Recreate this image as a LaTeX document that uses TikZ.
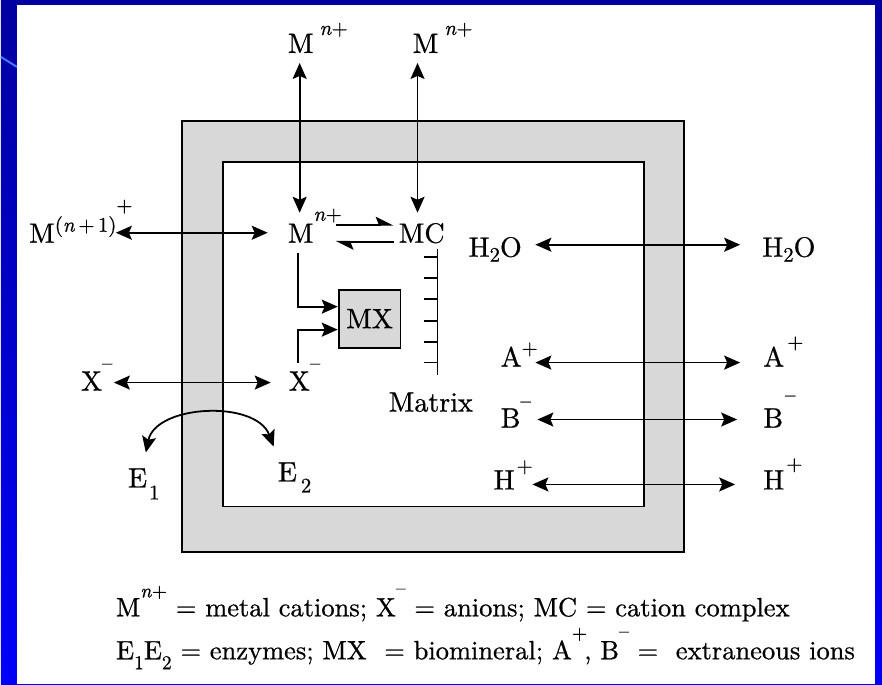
\documentclass[tikz,border=0pt]{standalone}
\usepackage{fontspec}
\setmainfont{lmroman10-regular.otf}[ItalicFont=lmroman10-italic.otf, BoldFont=lmroman10-bold.otf, FakeBold=0.7]
\usepackage{graphicx}
\usepackage{tikz}
\usetikzlibrary{arrows.meta, positioning, calc}
\definecolor{slidetop}{RGB}{0,0,160}
\definecolor{slidebot}{RGB}{0,0,250}
\definecolor{slideline}{RGB}{70,120,255}
\definecolor{wallgray}{RGB}{216,216,216}
\newcommand{\lblfont}{\fontsize{28}{33}\selectfont}
\newcommand{\keyfont}{\fontsize{26.5}{32}\selectfont}
\newcommand{\up}[2][18pt]{\raisebox{#1}{\scalebox{.74}{#2}}}
\newcommand{\dn}[2][11pt]{\raisebox{-#1}{\scalebox{.74}{#2}}}
\newcommand{\nplus}{\textit{n}+}
\tikzset{
  lbl/.style={inner sep=0pt, anchor=base west, font=\lblfont},
  ion/.style={line width=1.8pt, {Stealth[length=16pt,width=14pt,inset=3pt]}-{Stealth[length=16pt,width=14pt,inset=3pt]}},
  feed/.style={line width=1.8pt, -{Stealth[length=16pt,width=14pt,inset=3pt]}},
  harp/.style={line width=1.8pt, -{Stealth[left,length=16pt,width=16pt,inset=3pt]}},
}

\begin{document}
\begin{tikzpicture}[x=1pt,y=-1pt]

  % slide background
  \shade[top color=slidetop, bottom color=slidebot] (0,0) rectangle (882,685);
  \draw[slideline, line width=2pt] (0,57) -- (16,67);
  \fill[white] (16,5) rectangle (875,685);
  \useasboundingbox (0,0) rectangle (882,685);

  % cell wall
  \draw[line width=1.8pt, fill=wallgray] (181,121) rectangle (684,553);
  \draw[line width=1.8pt, fill=white] (222,162) rectangle (644,507);

  % ions and species
  \node[lbl] (mtopa) at (287,53) {M\kern6pt\up{\nplus}};
  \node[lbl] (mtopb) at (412,53) {M\kern6pt\up{\nplus}};
  \node[lbl] (mcat) at (287,243) {M\up[22pt]{\nplus}};
  \node[lbl] (mc) at (398,243) {MC};
  \node[lbl] (mhigh) at (28,243) {M\up[11pt]{(\textit{n}\,+\,1)}\up[31pt]{+}};
  \node[lbl] (xout) at (80,391) {X\up[21pt]{\textendash}};
  \node[lbl] (xin) at (288,391) {X\up[21pt]{\textendash}};
  \node[draw, line width=1.8pt, fill=wallgray, minimum width=62pt, minimum height=58pt,
        inner sep=0pt, font=\lblfont] (mx) at (369,319) {MX};
  \node[lbl] (matrix) at (388,412) {Matrix};
  \node[lbl] (eone) at (127,488) {E\kern2pt\dn[12pt]{1}};
  \node[lbl] (etwo) at (277,482) {E\kern4pt\dn[11pt]{2}};
  \node[lbl] (wl) at (468,257) {H\dn[5pt]{2}O};
  \node[lbl] (wr) at (762,257) {H\dn[5pt]{2}O};
  \node[lbl] (al) at (500,367) {A\up[12pt]{+}};
  \node[lbl] (ar) at (763,367) {A\kern3pt\up[18pt]{+}};
  \node[lbl] (bl) at (500,428) {B\up[20pt]{\textendash}};
  \node[lbl] (br) at (763,428) {B\kern2pt\up[26pt]{\textendash}};
  \node[lbl] (hl) at (493,490) {H\kern2pt\up[17pt]{+}};
  \node[lbl] (hr) at (763,490) {H\kern2pt\up[19pt]{+}};

  % exchange across the wall
  \draw[ion] ([xshift=12pt,yshift=-10pt]mtopa.base west) -- ([xshift=12pt,yshift=30pt]mcat.base west);
  \draw[ion] ([xshift=5pt,yshift=-10pt]mtopb.base west) -- ([xshift=19pt,yshift=30pt]mc.base west);
  \draw[ion] ([xshift=87pt,yshift=10pt]mhigh.base west) -- ([xshift=-20pt,yshift=10pt]mcat.base west);
  \draw[ion] ([xshift=33pt,yshift=8pt]xout.base west) -- ([xshift=-18pt,yshift=8pt]xin.base west);
  \draw[ion] ([xshift=18pt,yshift=35pt]eone.base west) .. controls (155,405) and (255,400) .. ([xshift=-4pt,yshift=35pt]etwo.base west);
  \draw[ion] ([xshift=67pt,yshift=12pt]wl.base west) -- ([xshift=-22pt,yshift=12pt]wr.base west);
  \draw[ion] ([xshift=35pt,yshift=4pt]al.base west) -- ([xshift=-23pt,yshift=4pt]ar.base west);
  \draw[ion] ([xshift=37pt,yshift=8pt]bl.base west) -- ([xshift=-26pt,yshift=8pt]br.base west);
  \draw[ion] ([xshift=39pt,yshift=5pt]hl.base west) -- ([xshift=-28pt,yshift=5pt]hr.base west);

  % complexation and mineral formation
  \draw[harp] ([xshift=48pt,yshift=18pt]mcat.base west) -- ([xshift=-5pt,yshift=18pt]mc.base west);
  \draw[harp] ([xshift=-5pt,yshift=1pt]mc.base west) -- ([xshift=48pt,yshift=1pt]mcat.base west);
  \draw[feed] ([xshift=10pt,yshift=-10pt]mcat.base west) |- ([yshift=12pt]mx.west);
  \draw[feed] ([xshift=9pt,yshift=28pt]xin.base west) |- ([yshift=-11pt]mx.west);

  % matrix
  \draw[line width=1.8pt] (437,249) -- (437,375);
  \foreach \y in {257,278,299,321,342,363}
    \draw[line width=1.8pt] (423,\y) -- (437,\y);

  % key
  \node[lbl, font=\keyfont] (keya) at (115,617)
    {M\up[19pt]{\nplus} = metal cations; X\up[22pt]{\textendash} =\ anions; MC = cation complex};
  \node[lbl, font=\keyfont] (keyb) at (115,660)
    {E\dn[10pt]{1}E\dn[10pt]{2} = enzymes; MX\ \ = biomineral; A\up[20pt]{+}\kern-3pt, B\up[22pt]{\textendash} =\ \ extraneous ions};

\end{tikzpicture}
\end{document}
